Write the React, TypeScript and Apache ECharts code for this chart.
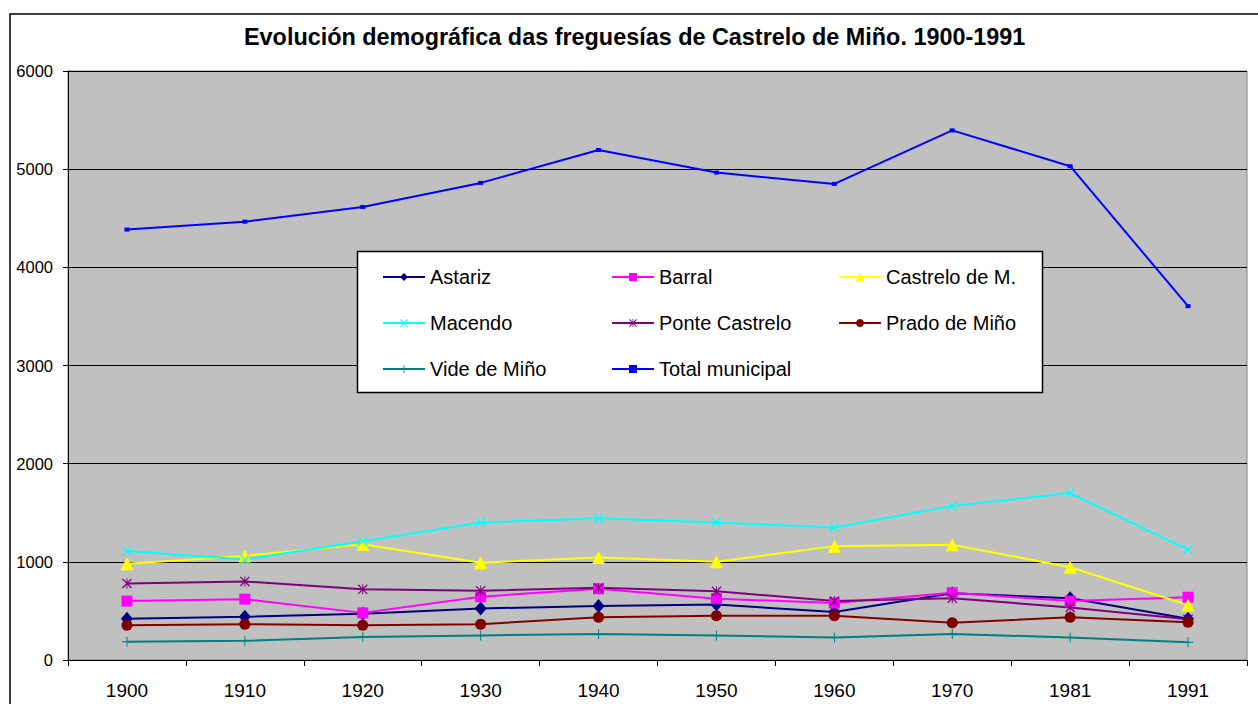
import React, { useEffect, useRef } from "react";
import * as echarts from "echarts";

const years = ["1900", "1910", "1920", "1930", "1940", "1950", "1960", "1970", "1981", "1991"];
const astariz = [420, 440, 470, 525, 550, 565, 490, 680, 630, 420];
const barral = [600, 620, 480, 645, 725, 625, 580, 685, 600, 640];
const castrelo = [980, 1060, 1180, 990, 1045, 1000, 1160, 1175, 945, 560];
const macendo = [1110, 1025, 1210, 1400, 1445, 1400, 1350, 1570, 1700, 1125];
const ponteCastrelo = [780, 800, 720, 705, 735, 700, 600, 630, 535, 415];
const pradoMino = [355, 365, 355, 365, 435, 450, 450, 380, 435, 385];
const videMino = [185, 195, 235, 250, 265, 250, 230, 265, 230, 180];
const totalMunicipal = [4385, 4465, 4615, 4860, 5195, 4965, 4850, 5395, 5030, 3605];

const FONT = "'Liberation Sans', Arial, sans-serif";

const X_SYM = "path://M1.8,0 L20,18.2 L18.2,20 L0,1.8 Z M18.2,0 L20,1.8 L1.8,20 L0,18.2 Z";
const PLUS_SYM = "path://M9,0 L11,0 L11,9 L20,9 L20,11 L11,11 L11,20 L9,20 L9,11 L0,11 L0,9 L9,9 Z";
const STAR_SYM =
  "path://M1.8,0 L20,18.2 L18.2,20 L0,1.8 Z M18.2,0 L20,1.8 L1.8,20 L0,18.2 Z M9,0 L11,0 L11,20 L9,20 Z";

const seriesDefs = [
  { name: "Astariz", data: astariz, color: "#000080", symbol: "diamond", size: [12, 14] },
  { name: "Barral", data: barral, color: "#FF00FF", symbol: "rect", size: 11 },
  { name: "Castrelo de M.", data: castrelo, color: "#FFFF00", symbol: "triangle", size: 13 },
  { name: "Macendo", data: macendo, color: "#00FFFF", symbol: X_SYM, size: 10 },
  { name: "Ponte Castrelo", data: ponteCastrelo, color: "#800080", symbol: STAR_SYM, size: 10 },
  { name: "Prado de Miño", data: pradoMino, color: "#800000", symbol: "circle", size: 11 },
  { name: "Vide de Miño", data: videMino, color: "#008080", symbol: PLUS_SYM, size: 10 },
  { name: "Total municipal", data: totalMunicipal, color: "#0000FF", symbol: "rect", size: [5, 4] },
];

function makeLegend(names: string[], left: number) {
  return {
    orient: "vertical",
    left,
    top: 267,
    itemGap: 26,
    itemWidth: 42,
    itemHeight: 10,
    z: 60,
    padding: 0,
    selectedMode: false,
    data: names,
    textStyle: { fontSize: 20, lineHeight: 20, color: "#000", fontFamily: FONT },
  };
}

export default function App() {
  const ref = useRef<HTMLDivElement>(null);
  useEffect(() => {
    document.body.style.margin = "0";
    const chart = echarts.init(ref.current!, null, { renderer: "svg" });
    chart.setOption({
      animation: false,
      backgroundColor: "#FFFFFF",
      title: {
        text: "Evolución demográfica das freguesías de Castrelo de Miño. 1900-1991",
        left: 244,
        top: 25,
        padding: 0,
        textStyle: { fontSize: 23.4, fontWeight: "bold", color: "#000", fontFamily: FONT },
      },
      graphic: [
        {
          type: "rect",
          z: 0,
          silent: true,
          shape: { x: 10, y: 14, width: 1300, height: 760 },
          style: { fill: "none", stroke: "#000", lineWidth: 1.5 },
        },
        {
          type: "rect",
          z: 50,
          silent: true,
          shape: { x: 357.5, y: 251.5, width: 685, height: 141 },
          style: { fill: "#FFFFFF", stroke: "#000", lineWidth: 1.5 },
        },
      ],
      legend: [
        makeLegend(["Astariz", "Macendo", "Vide de Miño"], 382),
        makeLegend(["Barral", "Ponte Castrelo", "Total municipal"], 611),
        makeLegend(["Castrelo de M.", "Prado de Miño"], 838),
      ],
      grid: {
        left: 68,
        top: 71,
        right: 11,
        bottom: 44,
        show: true,
        backgroundColor: "#C0C0C0",
        borderColor: "#808080",
        borderWidth: 1,
      },
      xAxis: {
        type: "category",
        data: years,
        boundaryGap: true,
        axisLine: { show: true, lineStyle: { color: "#000", width: 1 } },
        axisTick: { show: true, alignWithLabel: false, length: 6, lineStyle: { color: "#000" } },
        axisLabel: { fontSize: 19, color: "#000", fontFamily: FONT, margin: 21 },
        splitLine: { show: false },
      },
      yAxis: {
        type: "value",
        min: 0,
        max: 6000,
        interval: 1000,
        axisLine: { show: true, lineStyle: { color: "#000", width: 1 } },
        axisTick: { show: true, length: 5, lineStyle: { color: "#000" } },
        axisLabel: {
          fontSize: 16.5,
          color: "#000",
          fontFamily: FONT,
          margin: 15,
          formatter: (v: number) => String(v),
        },
        splitLine: { show: true, lineStyle: { color: "#000", width: 1 } },
      },
      series: seriesDefs.map((s) => ({
        name: s.name,
        type: "line",
        data: s.data,
        symbol: s.symbol,
        symbolSize: s.size,
        showSymbol: true,
        lineStyle: { color: s.color, width: 2 },
        itemStyle: { color: s.color, borderColor: s.color, borderWidth: 0, opacity: 1 },
        emphasis: { disabled: true },
        z: 2,
      })),
    });
    return () => chart.dispose();
  }, []);
  return (
    <div
      ref={ref}
      style={{ position: "fixed", left: 0, top: 0, width: 1258, height: 704 }}
    />
  );
}
